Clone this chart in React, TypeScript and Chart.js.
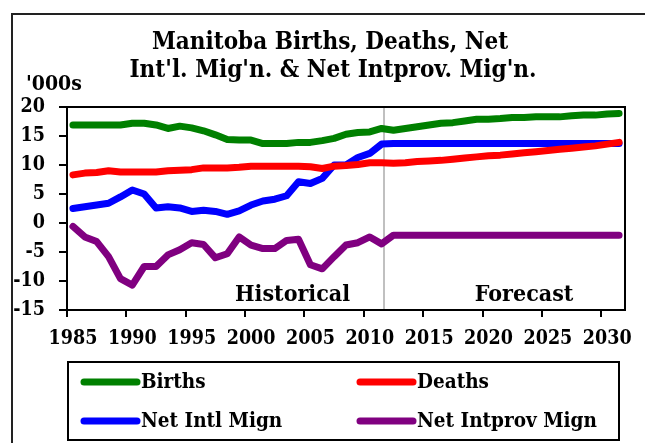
import React, { useEffect, useRef } from "react";
import { Chart, registerables } from "chart.js";

Chart.register(...registerables);

const years = [
  1985, 1986, 1987, 1988, 1989, 1990, 1991, 1992, 1993, 1994,
  1995, 1996, 1997, 1998, 1999, 2000, 2001, 2002, 2003, 2004,
  2005, 2006, 2007, 2008, 2009, 2010, 2011, 2012, 2013, 2014,
  2015, 2016, 2017, 2018, 2019, 2020, 2021, 2022, 2023, 2024,
  2025, 2026, 2027, 2028, 2029, 2030, 2031,
];

const births = [
  16.9, 16.9, 16.9, 16.9, 16.9, 17.2, 17.2, 16.9, 16.3, 16.7,
  16.4, 15.9, 15.2, 14.4, 14.3, 14.3, 13.7, 13.7, 13.7, 13.9,
  13.9, 14.2, 14.6, 15.3, 15.6, 15.7, 16.3, 16.0, 16.3, 16.6,
  16.9, 17.2, 17.3, 17.6, 17.9, 17.9, 18.0, 18.2, 18.2, 18.3,
  18.3, 18.3, 18.5, 18.6, 18.6, 18.8, 18.9,
];

const deaths = [
  8.3, 8.6, 8.7, 9.0, 8.8, 8.8, 8.8, 8.8, 9.0, 9.1,
  9.2, 9.5, 9.5, 9.5, 9.6, 9.8, 9.8, 9.8, 9.8, 9.8,
  9.7, 9.4, 9.8, 9.9, 10.1, 10.4, 10.4, 10.3, 10.4, 10.6,
  10.7, 10.8, 11.0, 11.2, 11.4, 11.6, 11.7, 11.9, 12.1, 12.3,
  12.5, 12.7, 12.9, 13.1, 13.3, 13.6, 13.9,
];

const netIntl = [
  2.5, 2.8, 3.1, 3.4, 4.5, 5.7, 5.0, 2.6, 2.8, 2.6,
  2.0, 2.2, 2.0, 1.5, 2.1, 3.1, 3.8, 4.1, 4.7, 7.1,
  6.8, 7.7, 10.0, 10.0, 11.3, 12.0, 13.6, 13.7, 13.7, 13.7,
  13.7, 13.7, 13.7, 13.7, 13.7, 13.7, 13.7, 13.7, 13.7, 13.7,
  13.7, 13.7, 13.7, 13.7, 13.7, 13.7, 13.7,
];

const netIntprov = [
  -0.6, -2.4, -3.2, -5.8, -9.6, -10.7, -7.5, -7.5, -5.5, -4.6,
  -3.4, -3.7, -6.0, -5.3, -2.4, -3.8, -4.4, -4.4, -3.0, -2.8,
  -7.2, -7.9, -5.8, -3.8, -3.4, -2.4, -3.6, -2.1, -2.1, -2.1,
  -2.1, -2.1, -2.1, -2.1, -2.1, -2.1, -2.1, -2.1, -2.1, -2.1,
  -2.1, -2.1, -2.1, -2.1, -2.1, -2.1, -2.1,
];

const seriesLabels = ["Births", "Deaths", "Net Intl Mign", "Net Intprov Mign"];
const seriesColors = ["#008000", "#ff0000", "#0000ff", "#800080"];
const titleLines = ["Manitoba Births, Deaths, Net", "Int'l. Mig'n. & Net Intprov. Mig'n."];
const unitLabel = "'000s";
const historicalLabel = "Historical";
const forecastLabel = "Forecast";
const forecastStart = 2011.7;
const yTicks = { min: -15, max: 20, step: 5 };
const xRange = { min: 1985, max: 2032, step: 5 };

const FAMILY = '"DejaVu Serif Condensed", "DejaVu Serif", serif';

const overlayPlugin = {
  id: "overlay",
  beforeDatasetsDraw(chart: any) {
    const { ctx, chartArea, scales } = chart;
    const x = scales.x.getPixelForValue(forecastStart);
    ctx.save();
    ctx.strokeStyle = "#c0c0c0";
    ctx.lineWidth = 2;
    ctx.beginPath();
    ctx.moveTo(x, chartArea.top);
    ctx.lineTo(x, chartArea.bottom);
    ctx.stroke();
    ctx.restore();
  },
  afterDraw(chart: any) {
    const { ctx, chartArea, scales } = chart;
    ctx.save();
    // outer frame
    ctx.strokeStyle = "#222";
    ctx.lineWidth = 2;
    ctx.strokeRect(12, 14, 700, 500);

    // plot box
    ctx.strokeStyle = "#000";
    ctx.lineWidth = 2;
    ctx.strokeRect(chartArea.left, chartArea.top, chartArea.right - chartArea.left, chartArea.bottom - chartArea.top);

    // title
    ctx.fillStyle = "#000";
    ctx.textAlign = "center";
    ctx.textBaseline = "alphabetic";
    ctx.font = `bold 24px ${FAMILY}`;
    ctx.fillText(titleLines[0], 330, 49);
    ctx.fillText(titleLines[1], 333, 77);

    // unit label
    ctx.textAlign = "left";
    ctx.font = `bold 21px ${FAMILY}`;
    ctx.fillText(unitLabel, 26, 90);

    // historical / forecast
    ctx.font = `bold 23px ${FAMILY}`;
    ctx.textAlign = "center";
    ctx.fillText(historicalLabel, scales.x.getPixelForValue(2004.0), chartArea.bottom - 9);
    ctx.fillText(forecastLabel, scales.x.getPixelForValue(2023.5), chartArea.bottom - 9);

    // legend
    const bx = chartArea.left + 1;
    const by = 362;
    const bw = 619 - bx;
    const bh = 78;
    ctx.lineWidth = 2;
    ctx.strokeStyle = "#000";
    ctx.strokeRect(bx, by, bw, bh);
    const cols = [bx + 16, bx + 292];
    const rows = [by + 20, by + 59];
    ctx.font = `bold 20.5px ${FAMILY}`;
    ctx.textAlign = "left";
    ctx.textBaseline = "middle";
    chart.data.datasets.forEach((ds: any, i: number) => {
      const cx = cols[i % 2];
      const cy = rows[Math.floor(i / 2)];
      ctx.strokeStyle = ds.borderColor;
      ctx.lineWidth = 7;
      ctx.lineCap = "round";
      ctx.beginPath();
      ctx.moveTo(cx, cy);
      ctx.lineTo(cx + 53, cy);
      ctx.stroke();
      ctx.fillStyle = "#000";
      ctx.fillText(ds.label, cx + 57, cy + 1);
    });
    ctx.restore();
  },
};

export default function App() {
  const ref = useRef<HTMLCanvasElement | null>(null);
  useEffect(() => {
    if (!ref.current) return;
    const mk = (vals: number[]) => vals.map((v, i) => ({ x: years[i] + 0.5, y: v }));
    const all = [births, deaths, netIntl, netIntprov];
    const chart = new Chart(ref.current, {
      type: "line",
      data: {
        datasets: all.map((vals, i) => ({
          label: seriesLabels[i],
          data: mk(vals),
          borderColor: seriesColors[i],
          backgroundColor: seriesColors[i],
          borderWidth: 7,
          borderCapStyle: "round",
          borderJoinStyle: "round",
          pointRadius: 0,
          tension: 0,
          fill: false,
        })),
      },
      options: {
        animation: false,
        responsive: false,
        layout: { padding: { left: 0, right: 20, top: 107, bottom: 0 } },
        plugins: {
          legend: { display: false },
          title: { display: false },
          tooltip: { enabled: false },
        },
        scales: {
          x: {
            type: "linear",
            min: xRange.min,
            max: xRange.max,
            afterFit: (s: any) => {
              s.height = 133;
            },
            grid: { drawOnChartArea: false, drawTicks: true, tickLength: 7, color: "#000", lineWidth: 2 },
            border: { display: true, color: "#000", width: 2 },
            ticks: {
              stepSize: xRange.step,
              includeBounds: false,
              autoSkip: false,
              maxRotation: 0,
              labelOffset: 6,
              padding: 10,
              color: "#000",
              font: { family: FAMILY, size: 19.5, weight: "bold" },
              callback: (v: any) => String(v),
            },
          },
          y: {
            min: yTicks.min,
            max: yTicks.max,
            afterFit: (s: any) => {
              s.width = 67;
            },
            grid: { drawOnChartArea: false, drawTicks: true, tickLength: 8, color: "#000", lineWidth: 2 },
            border: { display: true, color: "#000", width: 2 },
            ticks: {
              stepSize: yTicks.step,
              padding: 14,
              color: "#000",
              font: { family: FAMILY, size: 19.5, weight: "bold" },
              callback: (v: any) => String(v),
            },
          },
        },
      },
      plugins: [overlayPlugin],
    } as any);
    return () => chart.destroy();
  }, []);
  return (
    <div style={{ position: "fixed", left: 0, top: 0, width: 645, height: 443, background: "#fff" }}>
      <canvas ref={ref} width={645} height={443} style={{ width: 645, height: 443, display: "block" }} />
    </div>
  );
}
